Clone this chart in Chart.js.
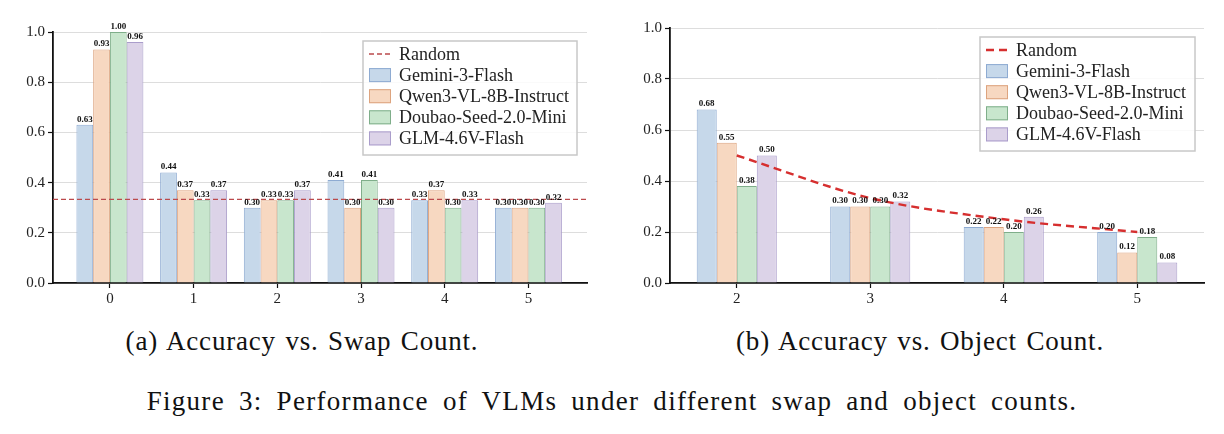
<!DOCTYPE html>
<html>
<head>
<meta charset="utf-8">
<script src="https://cdn.jsdelivr.net/npm/chart.js@4.4.1/dist/chart.umd.min.js"></script>
<style>
  body { margin: 0; background: #fff; width: 1224px; height: 434px; position: relative; overflow: hidden; }
  .box { position: absolute; top: 0; width: 612px; height: 320px; }
  .cap { position: absolute; font-family: "Liberation Serif", "DejaVu Serif", serif; color: #111; white-space: nowrap; transform: translateX(-50%); font-size: 27px; letter-spacing: 0.8px; word-spacing: 2px; }
</style>
</head>
<body>
<div class="box" style="left:0"><canvas id="swap"></canvas></div>
<div class="box" style="left:612px"><canvas id="objects"></canvas></div>
<div class="cap" style="left:302px; top:326px;">(a) Accuracy vs. Swap Count.</div>
<div class="cap" style="left:920px; top:326px;">(b) Accuracy vs. Object Count.</div>
<div class="cap" style="left:612px; top:386px; letter-spacing:1.3px; word-spacing:6px;">Figure 3: Performance of VLMs under different swap and object counts.</div>
<script>
// models
models = ['Gemini-3-Flash', 'Qwen3-VL-8B-Instruct', 'Doubao-Seed-2.0-Mini', 'GLM-4.6V-Flash'];
fills = ['#c6d8ea', '#f7d8c1', '#c8e6cd', '#dcd3e8'];
edges = ['#8eabd2', '#dda47f', '#7fae8a', '#aa9dcb'];

// (a) swap count
swapCounts = [0, 1, 2, 3, 4, 5];
swapGemini = [0.63, 0.44, 0.30, 0.41, 0.33, 0.30];
swapQwen   = [0.93, 0.37, 0.33, 0.30, 0.37, 0.30];
swapDoubao = [1.00, 0.33, 0.33, 0.41, 0.30, 0.30];
swapGLM    = [0.96, 0.37, 0.37, 0.30, 0.33, 0.32];
swapRandom = 1 / 3;

// (b) object count
objCounts = ['2', '3', '4', '5'];
objGemini = [0.68, 0.30, 0.22, 0.20];
objQwen   = [0.55, 0.30, 0.22, 0.12];
objDoubao = [0.38, 0.30, 0.20, 0.18];
objGLM    = [0.50, 0.32, 0.26, 0.08];
objRandom = [0.5, 0.333, 0.25, 0.2];

yTicks = [0, 0.2, 0.4, 0.6, 0.8, 1.0];

var serif = '"Liberation Serif", "DejaVu Serif", serif';
Chart.defaults.font.family = serif;
Chart.defaults.color = '#222';

// value labels on top of bars
var barLabels = {
  id: 'barLabels',
  afterDatasetsDraw(chart) {
    var ctx = chart.ctx;
    ctx.save();
    ctx.font = 'bold 9px ' + serif;
    ctx.fillStyle = '#111';
    ctx.textAlign = 'center';
    ctx.textBaseline = 'bottom';
    chart.data.datasets.forEach((ds, i) => {
      if (ds.type === 'line') return;
      chart.getDatasetMeta(i).data.forEach((bar, j) => {
        var v = ds.data[j];
        if (typeof v === 'object') v = v.y;
        ctx.fillText(v.toFixed(2), bar.x, bar.y - 1);
      });
    });
    ctx.restore();
  }
};

// horizontal random line for (a)
var randomLevel = {
  id: 'randomLevel',
  afterDatasetsDraw(chart, args, opts) {
    if (opts.value == null) return;
    var ctx = chart.ctx, a = chart.chartArea;
    var y = chart.scales.y.getPixelForValue(opts.value);
    ctx.save();
    ctx.strokeStyle = '#bb4a4c';
    ctx.lineWidth = 1.3;
    ctx.setLineDash([5, 3]);
    ctx.beginPath();
    ctx.moveTo(a.left, y);
    ctx.lineTo(a.right, y);
    ctx.stroke();
    ctx.restore();
  }
};

// boxed legend inside the plot
var boxLegend = {
  id: 'boxLegend',
  afterDraw(chart, args, o) {
    var ctx = chart.ctx;
    ctx.save();
    ctx.fillStyle = 'rgba(255,255,255,0.85)';
    ctx.fillRect(o.x, o.y, o.w, o.h);
    ctx.strokeStyle = '#c8c8c8';
    ctx.lineWidth = 1.5;
    ctx.strokeRect(o.x, o.y, o.w, o.h);
    ctx.font = '18px ' + serif;
    ctx.textBaseline = 'middle';
    var rows = ['Random'].concat(models);
    rows.forEach((name, i) => {
      var cy = o.y + 13 + i * 21.1;
      var hx = o.x + 6;
      if (i === 0) {
        ctx.strokeStyle = o.lineColor;
        ctx.lineWidth = o.lineWidth;
        ctx.setLineDash(o.dash);
        ctx.beginPath();
        ctx.moveTo(hx, cy);
        ctx.lineTo(hx + 22, cy);
        ctx.stroke();
        ctx.setLineDash([]);
      } else {
        ctx.fillStyle = fills[i - 1];
        ctx.fillRect(hx, cy - 7, 22, 14);
        ctx.strokeStyle = edges[i - 1];
        ctx.lineWidth = 1;
        ctx.strokeRect(hx + 0.5, cy - 6.5, 21, 13);
      }
      ctx.fillStyle = '#222';
      ctx.fillText(name, o.x + 36, cy + 1);
    });
    ctx.restore();
  }
};

function yScale(width) {
  return {
    min: 0, max: 1,
    afterFit: s => { s.width = width; },
    afterBuildTicks: s => { s.ticks = yTicks.map(v => ({ value: v })); },
    ticks: { font: { size: 15 }, padding: 3, callback: v => v.toFixed(1) },
    grid: {
      color: '#dddddd', borderDash: [5, 4], lineWidth: 1,
      tickLength: 5, tickColor: '#111', tickBorderDash: [], tickWidth: 1.2
    },
    border: { display: true, color: '#111', width: 1.8 }
  };
}

function xGrid() {
  return { drawOnChartArea: false, tickLength: 5, tickColor: '#111', tickWidth: 1.2, offset: false };
}

var swapData = [swapGemini, swapQwen, swapDoubao, swapGLM];
new Chart(document.getElementById('swap').getContext('2d'), {
  type: 'bar',
  data: {
    datasets: swapData.map((vals, i) => ({
      label: models[i],
      data: vals.map((v, j) => ({ x: swapCounts[j], y: v })),
      backgroundColor: fills[i],
      borderColor: edges[i],
      borderWidth: 1,
      categoryPercentage: 0.8,
      barPercentage: 1
    }))
  },
  options: {
    responsive: true,
    maintainAspectRatio: false,
    animation: false,
    layout: { padding: { left: 0, right: 25, top: 32, bottom: 0 } },
    plugins: {
      legend: { display: false },
      tooltip: { enabled: false },
      randomLevel: { value: swapRandom },
      boxLegend: { x: 363, y: 41, w: 214, h: 114, lineColor: '#bb4a4c', lineWidth: 1.3, dash: [5, 3] }
    },
    scales: {
      x: {
        type: 'linear', min: -0.68, max: 5.7, offset: false,
        afterFit: s => { s.height = 37; },
        afterBuildTicks: s => { s.ticks = swapCounts.map(v => ({ value: v })); },
        ticks: { font: { size: 15 }, padding: 2, callback: v => String(v) },
        grid: xGrid(),
        border: { display: true, color: '#111', width: 1.8 }
      },
      y: yScale(53)
    }
  },
  plugins: [randomLevel, barLabels, boxLegend]
});

var objData = [objGemini, objQwen, objDoubao, objGLM];
var objSets = objData.map((vals, i) => ({
  type: 'bar',
  label: models[i],
  data: vals,
  backgroundColor: fills[i],
  borderColor: edges[i],
  borderWidth: 1,
  categoryPercentage: 0.6,
  barPercentage: 1,
  order: 2
}));
objSets.push({
  type: 'line',
  label: 'Random',
  data: objRandom,
  borderColor: '#d62f2f',
  borderWidth: 2.4,
  borderDash: [8, 5],
  pointRadius: 0,
  cubicInterpolationMode: 'monotone',
  fill: false,
  order: 0
});

new Chart(document.getElementById('objects').getContext('2d'), {
  type: 'bar',
  data: { labels: objCounts, datasets: objSets },
  options: {
    responsive: true,
    maintainAspectRatio: false,
    animation: false,
    layout: { padding: { left: 0, right: 20, top: 28, bottom: 0 } },
    plugins: {
      legend: { display: false },
      tooltip: { enabled: false },
      boxLegend: { x: 368, y: 37, w: 215, h: 114, lineColor: '#d62f2f', lineWidth: 2.4, dash: [8, 5] }
    },
    scales: {
      x: {
        afterFit: s => { s.height = 37; },
        ticks: { font: { size: 15 }, padding: 2 },
        grid: xGrid(),
        border: { display: true, color: '#111', width: 1.8 }
      },
      y: yScale(58)
    }
  },
  plugins: [barLabels, boxLegend]
});
</script>
</body>
</html>
